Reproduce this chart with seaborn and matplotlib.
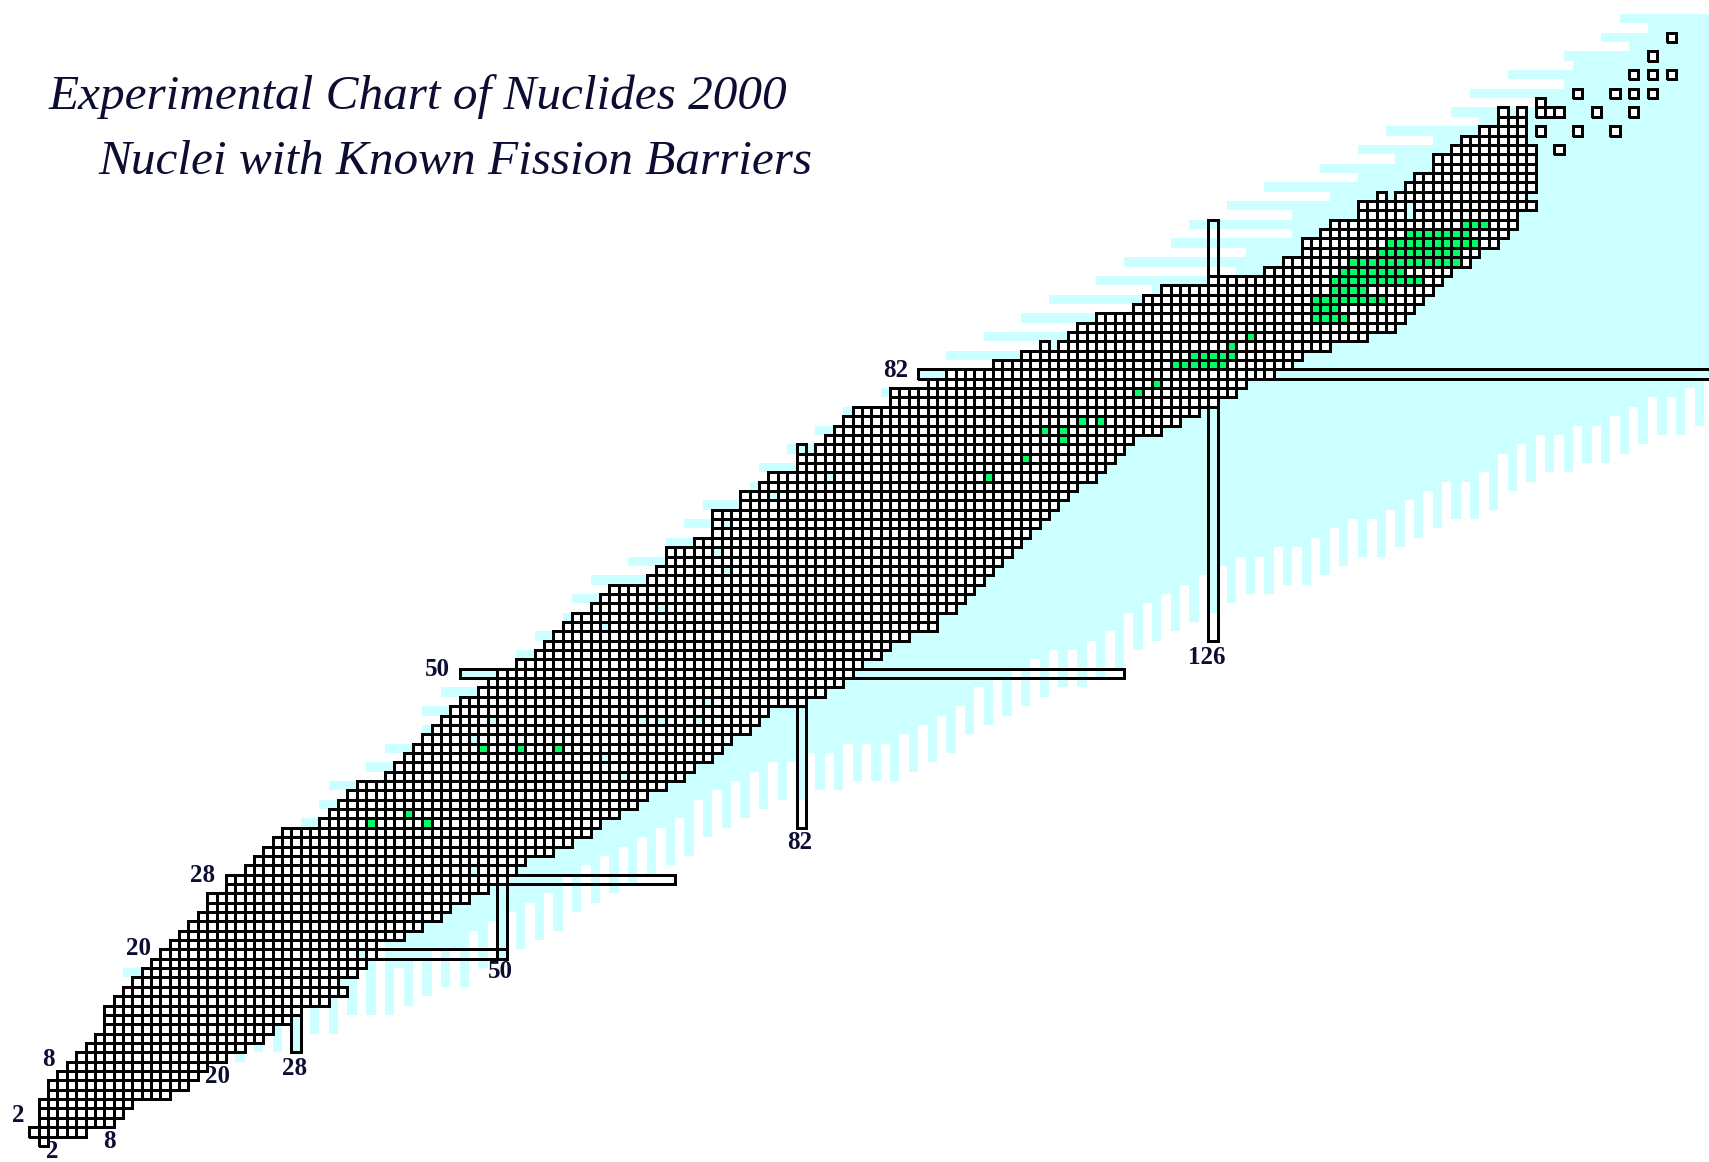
import numpy as np
import matplotlib
matplotlib.use("Agg")
import matplotlib.pyplot as plt
from matplotlib.colors import ListedColormap
from matplotlib.patches import Rectangle
import seaborn as sns

sns.set_theme(style="white")
plt.rcParams["font.family"] = ["Liberation Serif", "DejaVu Serif"]

# ---------------------------------------------------------------------------
# Observed nuclides: first and last neutron number N for each Z = 0 .. 110
# ---------------------------------------------------------------------------
n_first = [1, 0, 1, 1, 1, 2, 2, 3, 4, 5,
           6, 7, 8, 8, 8, 9, 10, 11, 12, 13,
           14, 15, 16, 17, 18, 19, 19, 21, 21, 23,
           24, 25, 26, 27, 31, 32, 33, 34, 35, 38,
           39, 40, 41, 42, 43, 44, 45, 46, 48, 49,
           50, 52, 54, 55, 56, 57, 58, 60, 61, 62,
           66, 67, 68, 68, 71, 73, 73, 73, 76, 76,
           78, 79, 82, 82, 84, 85, 86, 87, 88, 92,
           92, 96, 98, 103, 106, 108, 111, 112, 114, 118,
           119, 121, 126, 132, 134, 136, 136, 138, 139, 142,
           142, 144, 147, 148, 150, 150, 152, 153, 155, 157,
           157]
n_last = [1, 5, 8, 9, 10, 14, 16, 17, 18, 20,
          22, 24, 25, 27, 28, 31, 33, 33, 34, 35,
          36, 36, 39, 41, 43, 44, 46, 48, 50, 51,
          52, 55, 57, 59, 60, 62, 64, 65, 67, 69,
          70, 72, 73, 74, 76, 77, 78, 82, 84, 86,
          87, 88, 90, 91, 93, 96, 96, 98, 99, 100,
          101, 102, 103, 104, 105, 106, 107, 108, 109, 110,
          111, 113, 114, 115, 116, 117, 120, 122, 124, 126,
          128, 129, 132, 134, 135, 138, 142, 145, 146, 147,
          148, 149, 150, 151, 153, 154, 156, 157, 158, 158,
          160, 159, 160, 160, 160, 160, 160, 159, 159, 159,
          159]

# unobserved cells inside the spans above (N, Z)
gaps = [(33, 17), (35, 20), (47, 29), (63, 39), (61, 41), (47, 43), (49, 45),
        (65, 45), (67, 45), (71, 45), (72, 47), (61, 55), (67, 57), (74, 61),
        (73, 63), (74, 66), (79, 69), (85, 71), (109, 85), (147, 99),
        (147, 100), (145, 101), (158, 110)]

# superheavy decay-chain members outside the main block (N, Z)
isolated = [(163, 106), (161, 108), (165, 108), (169, 108), (161, 110),
            (162, 110), (163, 110), (167, 110), (171, 110), (161, 111),
            (165, 112), (169, 112), (171, 112), (173, 112), (171, 114),
            (173, 114), (175, 114), (173, 116), (175, 118)]

# nuclei with known fission barriers: (Z, first N, last N)
barrier_runs = [(34, 36, 36), (34, 42, 42), (35, 40, 40),
                (42, 48, 48), (42, 52, 52), (42, 56, 56),
                (71, 102, 102), (73, 106, 106), (75, 110, 110),
                (76, 108, 108), (76, 110, 110), (77, 112, 112),
                (77, 114, 114), (80, 118, 118), (81, 120, 120),
                (83, 122, 127), (84, 124, 128), (85, 128, 128),
                (86, 130, 130), (88, 137, 140), (89, 137, 139),
                (90, 137, 144), (91, 139, 142), (92, 139, 148),
                (93, 140, 146), (94, 141, 152), (95, 144, 152),
                (96, 145, 154), (97, 147, 153), (98, 153, 155)]

# ---------------------------------------------------------------------------
# Predicted bound nuclei
# proton-rich limit: first bound N for Z = 0 .. 120
# ---------------------------------------------------------------------------
pred_first = [1, 0, 1, 1, 1, 2, 2, 3, 4, 5,
              6, 7, 8, 8, 8, 9, 10, 11, 10, 13,
              14, 15, 16, 17, 18, 19, 19, 21, 21, 23,
              24, 25, 26, 27, 29, 32, 31, 34, 32, 38,
              36, 40, 38, 42, 42, 44, 42, 46, 44, 49,
              46, 52, 52, 55, 54, 57, 57, 60, 58, 62,
              60, 67, 64, 68, 68, 73, 70, 73, 72, 76,
              77, 79, 78, 82, 81, 85, 84, 87, 87, 92,
              91, 96, 95, 103, 98, 108, 102, 112, 106, 118,
              109, 120, 114, 129, 117, 130, 122, 135, 124, 135,
              128, 139, 132, 142, 138, 146, 142, 150, 145, 155,
              152, 161, 154, 164, 158, 165, 164, 171, 168, 173,
              170]
# neutron-rich limit: lowest bound Z for even N = 22 .. 180
drip_even = [9, 10, 10, 10, 12, 12, 14, 14, 14, 15,
             16, 17, 17, 19, 20, 21, 22, 23, 25, 26,
             27, 28, 29, 30, 31, 33, 34, 35, 36, 37,
             37, 38, 38, 39, 39, 39, 40, 41, 42, 44,
             45, 46, 47, 48, 49, 49, 50, 51, 53, 54,
             55, 56, 57, 58, 59, 59, 60, 60, 61, 62,
             63, 63, 64, 65, 66, 67, 67, 68, 70, 71,
             72, 72, 73, 73, 74, 75, 76, 76, 77, 78]
# ... and for odd N = 23 .. 181 (99 = nothing below the observed cells)
drip_odd = [99, 99, 99, 99, 99, 99, 99, 99, 19, 20,
            21, 21, 23, 24, 25, 26, 27, 29, 30, 31,
            32, 33, 34, 35, 37, 38, 39, 40, 41, 41,
            42, 42, 43, 43, 43, 44, 45, 46, 47, 49,
            50, 51, 52, 53, 53, 54, 55, 57, 58, 59,
            60, 61, 62, 63, 63, 64, 64, 65, 66, 67,
            67, 68, 69, 70, 71, 71, 72, 74, 75, 76,
            76, 77, 77, 78, 79, 80, 80, 81, 82, 82]

# shell closures drawn as double lines: (axis, magic number, start, end)
magic_bands = [("Z", 2, 0.5, 6.5), ("Z", 8, 3.5, 14.5), ("Z", 20, 13.5, 50.5),
               ("Z", 28, 20.5, 68.5), ("Z", 50, 45.5, 116.5), ("Z", 82, 94.5, 200),
               ("N", 2, 0.5, 4.5), ("N", 8, 1.5, 12.5), ("N", 20, 8.5, 24.5),
               ("N", 28, 9.5, 32.5), ("N", 50, 19.5, 50.5), ("N", 82, 33.5, 74.5),
               ("N", 126, 53.5, 98.5)]
# magic-number labels: (text, N, Z)
magic_labels = [("2", -1.67, 2.8), ("2", 1.95, -1.15), ("8", 1.5, 8.7),
                ("8", 8.0, 0.0), ("20", 11.15, 20.6), ("20", 19.65, 6.9),
                ("28", 18.0, 28.4), ("28", 27.8, 7.8), ("50", 43.1, 50.45),
                ("50", 49.8, 18.1), ("82", 92.1, 82.4), ("82", 81.8, 31.9),
                ("126", 125.4, 51.7)]

CYAN, GREEN, INK = "#CCFFFF", "#00FF66", "#0D0D33"
LW = 2.05

# ---------------------------------------------------------------------------
# grid of cells (rows = Z, columns = N)
# ---------------------------------------------------------------------------
NCOL, NROW, ZMAX_PRED = 182, 122, 120
known = np.zeros((NROW, NCOL), bool)
for z, (a, b) in enumerate(zip(n_first, n_last)):
    known[z, a:b + 1] = True
for n, z in gaps:
    known[z, n] = False
for n, z in isolated:
    known[z, n] = True

barrier = np.zeros_like(known)
for z, a, b in barrier_runs:
    barrier[z, a:b + 1] = True

drip = np.full(NCOL, 999)
drip[22::2] = drip_even
drip[23::2] = drip_odd
lowest_known = np.array([np.argmax(known[:, n]) if known[:, n].any() else 999
                         for n in range(NCOL)])
floor_z = np.minimum(drip, lowest_known)

zz, nn = np.mgrid[0:NROW, 0:NCOL]
first_n = np.full(NROW, 999)
first_n[:len(pred_first)] = pred_first
predicted = (nn >= first_n[:, None]) & (zz >= floor_z[None, :]) & (zz <= ZMAX_PRED)

fill = np.full((NROW, NCOL), np.nan)
fill[predicted] = 1
fill[known] = 2
fill[known & barrier] = 3

# ---------------------------------------------------------------------------
fig = plt.figure(figsize=(17.09, 11.62), dpi=100)
ax = fig.add_axes([0, 0, 1, 1])

sns.heatmap(fill, ax=ax, cmap=ListedColormap([CYAN, "#FFFFFF", GREEN]),
            vmin=0.5, vmax=3.5, cbar=False, xticklabels=False,
            yticklabels=False, linewidths=0)

# outline layer: transparent faces, black borders only on observed cells
sns.heatmap(np.zeros((NROW, NCOL)), ax=ax, cmap=ListedColormap([(0, 0, 0, 0)]),
            vmin=0, vmax=1, cbar=False, xticklabels=False, yticklabels=False,
            linewidths=LW, linecolor="black")
mesh = ax.collections[-1]
edges = np.zeros((NROW * NCOL, 4))
edges[known.ravel(), 3] = 1.0
mesh.set_edgecolor(edges)

for axis, m, a, b in magic_bands:
    if axis == "Z":
        rect = Rectangle((a + 0.5, m), b - a, 1)
    else:
        rect = Rectangle((m, a + 0.5), 1, b - a)
    rect.set(fill=False, edgecolor="black", linewidth=LW, zorder=5,
             antialiased=False)
    ax.add_patch(rect)

for txt, n, z in magic_labels:
    ax.text(n + 0.5, z + 0.5, txt, ha="center", va="center", fontsize=18,
            fontweight="bold", color=INK, family="Liberation Serif", zorder=6)

# cell pitch 9.355 px, cell (0,0) centred at (34.1, 1141.2) px from top-left
px, x0, y0 = 9.355, 34.1, 1141.2
ax.set_xlim(0.5 - x0 / px, 0.5 + (1709 - x0) / px)
ax.set_ylim(0.5 - (1162 - y0) / px, 0.5 + (y0) / px)
ax.axis("off")

fig.text(49 / 1709, 1 - 109 / 1162, "Experimental Chart of Nuclides 2000",
         fontsize=35.5, style="italic", color=INK, ha="left", va="baseline")
fig.text(98 / 1709, 1 - 174 / 1162, "Nuclei with Known Fission Barriers",
         fontsize=35.5, style="italic", color=INK, ha="left", va="baseline")

fig.savefig("out.png", dpi=100)
